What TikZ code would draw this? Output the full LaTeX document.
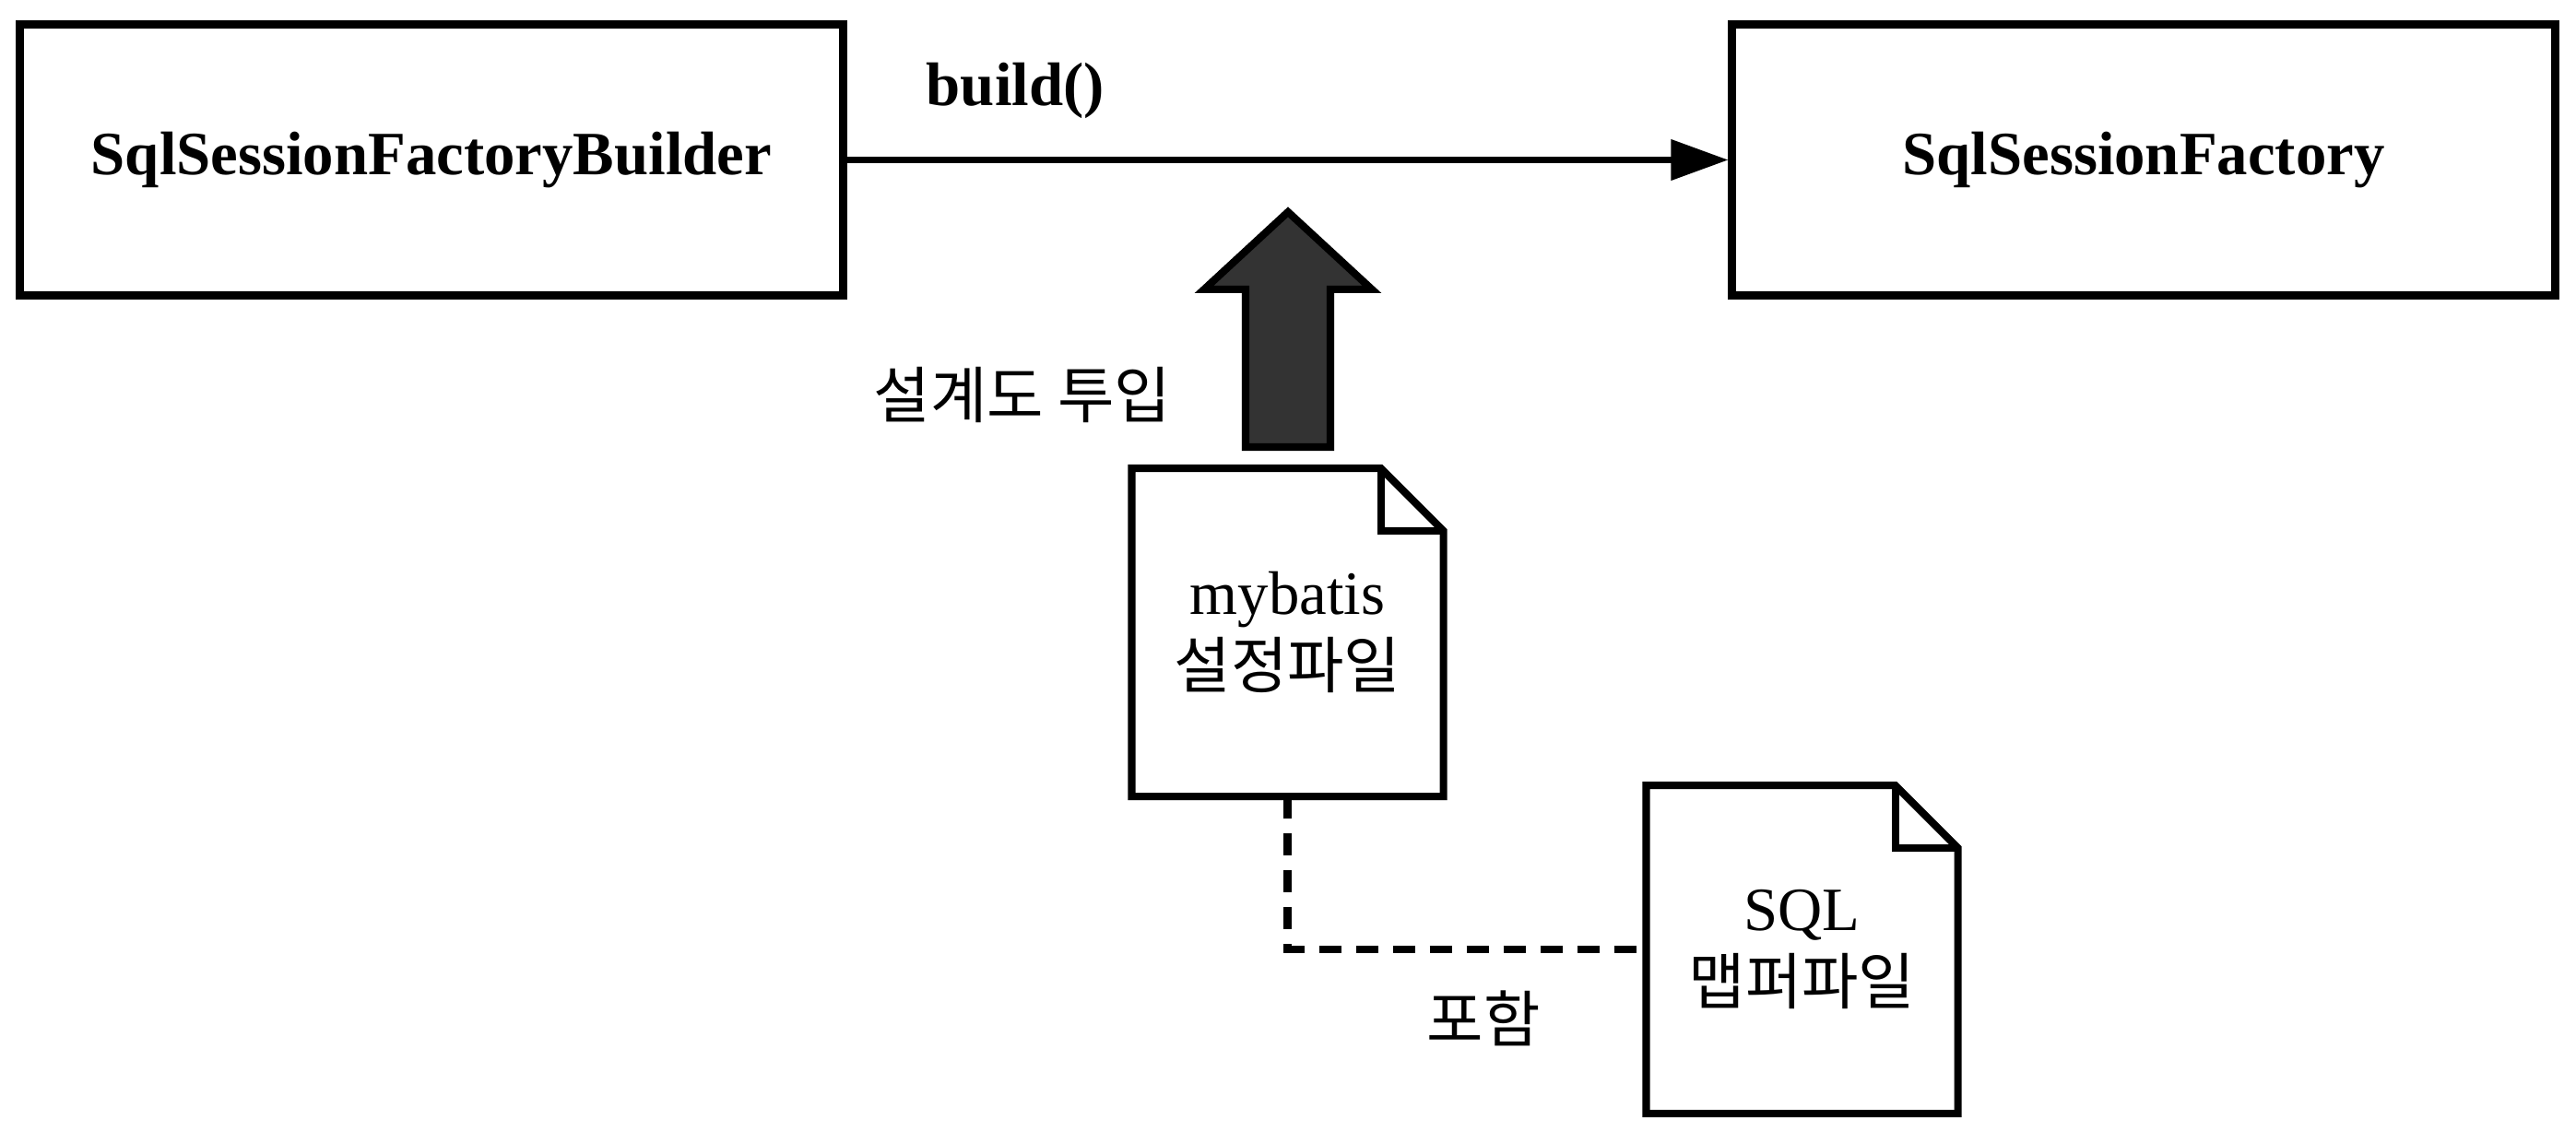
\documentclass[tikz,border=0pt]{standalone}
\usepackage{fontspec}
\setmainfont{Liberation Serif}
\newfontfamily\kr{Noto Sans CJK KR}
\usetikzlibrary{arrows.meta}
\definecolor{pushgray}{HTML}{333333}
\tikzset{classbox/.style={draw, minimum width=8.93cm, minimum height=2.94cm, font=\fontsize{19}{23}\selectfont\bfseries},
         docfile/.style={minimum width=3.30cm, minimum height=3.48cm, align=center, font=\fontsize{19}{23}\selectfont},
         lbl/.style={font=\fontsize{19}{23}\selectfont}}
\begin{document}
\begin{tikzpicture}[line width=2.3pt, line join=miter]
   \useasboundingbox (0,0) rectangle (27.94,12.26);
   \node[classbox] (builder) at ( 4.68,10.525) {SqlSessionFactoryBuilder};
   \node[classbox] (factory) at (23.25,10.525) {SqlSessionFactory};
   \draw[line width=2pt,-{Triangle[length=0.62cm,width=0.43cm]}] (builder) -- (factory);
   \node[lbl,anchor=west] (buildlbl) at (9.89,11.28) {\bfseries build()};

   \node[docfile] (conf) at (13.965,5.40) {mybatis\\{\kr 설정파일}};
   \node[docfile] (sql)  at (19.545,1.96) {SQL\\{\kr 맵퍼파일}};
   \foreach \d in {conf,sql} {
     \draw (\d.south west) -- (\d.north west) -- ([xshift=-0.68cm]\d.north east)
        -- ([yshift=-0.68cm]\d.north east) -- (\d.south east) -- cycle;
     \draw ([xshift=-0.68cm]\d.north east) |- ([yshift=-0.68cm]\d.north east);
   }

   \draw[fill=pushgray] ([shift={(-0.455,0.23)}]conf.north) -- ++(0,1.71) -- ++(-0.45,0)
      -- ++(0.91,0.84) -- ++(0.91,-0.84) -- ++(-0.45,0) -- ++(0,-1.71) -- cycle;
   \node[lbl] (pushlbl) at (11.09,7.98) {\kr 설계도 투입};

   \draw[dash pattern=on 0.24cm off 0.16cm] (conf.south) |- (sql.west);
   \node[lbl] (incllbl) at (16.09,1.21) {\kr 포함};
\end{tikzpicture}
\end{document}
